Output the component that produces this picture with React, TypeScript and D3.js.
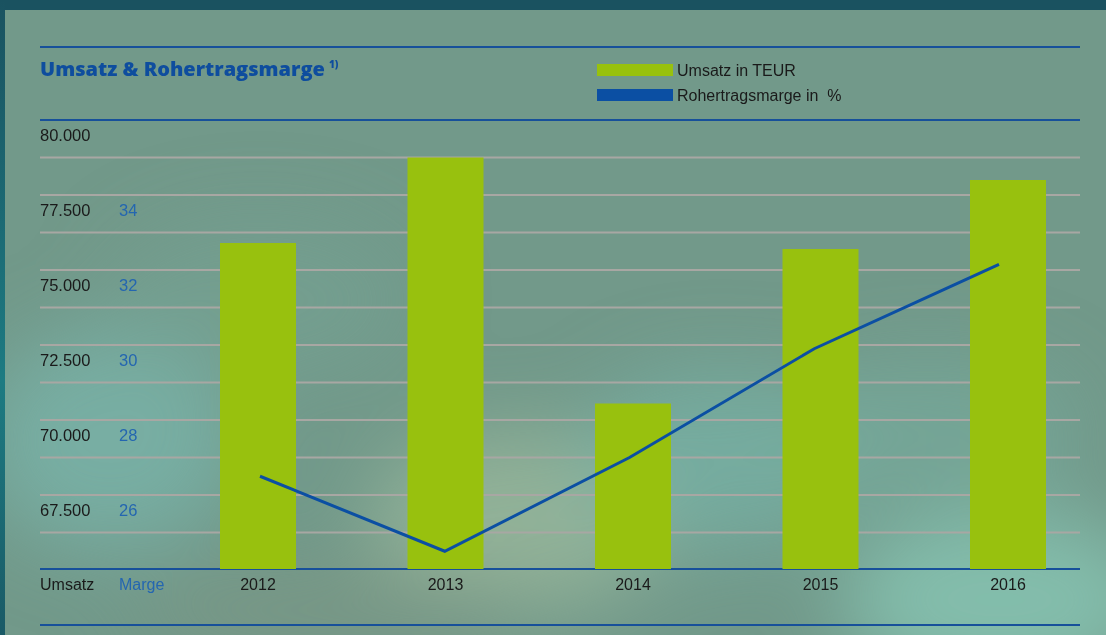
import React from "react";
import * as d3 from "d3";

const years = ["2012", "2013", "2014", "2015", "2016"];
const umsatz = [75900, 78750, 70550, 75700, 78000];
const marge = [26.5, 24.5, 27.0, 29.9, 32.15];
const umsatzTicks = [67500, 70000, 72500, 75000, 77500, 80000];
const margeTicks = [26, 28, 30, 32, 34];
const gridValues = [66250, 67500, 68750, 70000, 71250, 72500, 73750, 75000, 76250, 77500, 78750];

const W = 1106;
const H = 635;
const L = 40;
const R = 1080;

export default function App() {
  const yU = d3.scaleLinear().domain([65000, 80000]).range([570, 120]);
  const yM = d3.scaleLinear().domain([24, 34]).range([570, 195]);
  const xBar = d3.scalePoint<string>().domain(years).range([258, 1008]);
  const xLine = d3.scalePoint<string>().domain(years).range([260, 999]);
  const barW = 76;
  const fmtU = (v: number) => {
    const s = String(v);
    return s.slice(0, s.length - 3) + "." + s.slice(s.length - 3);
  };
  const line = d3
    .line<number>()
    .x((_, i) => xLine(years[i]) as number)
    .y((d) => yM(d));

  const font = "'Liberation Sans', Arial, sans-serif";

  return (
    <svg
      width={W}
      height={H}
      style={{ position: "absolute", left: 0, top: 0, display: "block" }}
    >
      <defs>
        <linearGradient id="leftband" x1="0" y1="0" x2="0" y2="1">
          <stop offset="0" stopColor="#1a5260" />
          <stop offset="0.6" stopColor="#1d7b82" />
          <stop offset="1" stopColor="#1a5a66" />
        </linearGradient>
        <filter id="blur" x="-50%" y="-50%" width="200%" height="200%">
          <feGaussianBlur stdDeviation="40" />
        </filter>
        <clipPath id="panel">
          <rect x={5} y={10} width={W - 5} height={H - 10} />
        </clipPath>
      </defs>
      <rect x={0} y={0} width={W} height={H} fill="#1a5260" />
      <rect x={0} y={0} width={5} height={H} fill="url(#leftband)" />
      <g clipPath="url(#panel)">
        <rect x={5} y={10} width={W - 5} height={H - 10} fill="#72998a" />
        <g filter="url(#blur)">
          <ellipse cx={110} cy={440} rx={130} ry={110} fill="#79b3a9" opacity={0.8} />
          <ellipse cx={520} cy={520} rx={150} ry={90} fill="#98b89b" opacity={0.8} />
          <ellipse cx={720} cy={460} rx={140} ry={90} fill="#78b3a8" opacity={0.7} />
          <ellipse cx={1000} cy={600} rx={160} ry={90} fill="#86c3b1" opacity={0.85} />
          <ellipse cx={930} cy={430} rx={150} ry={70} fill="#77ad9f" opacity={0.6} />
          <ellipse cx={330} cy={610} rx={200} ry={40} fill="#7a9684" opacity={0.8} />
          <ellipse cx={260} cy={300} rx={150} ry={80} fill="#76a394" opacity={0.5} />
        </g>
      </g>

      {/* gridlines */}
      {gridValues.map((v) => (
        <line
          key={v}
          x1={L}
          x2={R}
          y1={yU(v)}
          y2={yU(v)}
          stroke="#a8a7a3"
          strokeWidth={2}
        />
      ))}

      {/* blue rules */}
      {[47, yU(80000), yU(65000) - 1, 625].map((y, i) => (
        <line key={i} x1={L} x2={R} y1={y} y2={y} stroke="#17509a" strokeWidth={2} />
      ))}

      {/* bars */}
      {umsatz.map((v, i) => (
        <rect
          key={years[i]}
          x={(xBar(years[i]) as number) - barW / 2}
          y={yU(v)}
          width={barW}
          height={yU(65000) - 1 - yU(v)}
          fill="#98c10e"
        />
      ))}

      {/* margin line */}
      <path d={line(marge) || ""} fill="none" stroke="#0b4fa3" strokeWidth={3} />

      {/* title */}
      <text x={40} y={76} fontFamily="'Open Sans', sans-serif" fontWeight={800} fontSize={20} fill="#0e4d9e">
        Umsatz &amp; Rohertragsmarge
        <tspan fontSize={10} dy={-8} dx={4}>1)</tspan>
      </text>

      {/* legend */}
      <rect x={597} y={64} width={76} height={12} fill="#98c10e" />
      <text x={677} y={76} fontFamily={font} fontSize={16} fill="#1a1a1a">Umsatz in TEUR</text>
      <rect x={597} y={89} width={76} height={12} fill="#0b4fa3" />
      <text x={677} y={101} fontFamily={font} fontSize={16} fill="#1a1a1a" style={{ whiteSpace: "pre" }}>
        {"Rohertragsmarge in  %"}
      </text>

      {/* left axis labels */}
      {umsatzTicks.map((v) => (
        <text key={v} x={40} y={yU(v) + 21} fontFamily={font} fontSize={16.5} fill="#1a1a1a">
          {fmtU(v)}
        </text>
      ))}
      {margeTicks.map((v) => (
        <text key={v} x={119} y={yM(v) + 21} fontFamily={font} fontSize={16.5} fill="#2466b0">
          {v}
        </text>
      ))}

      {/* bottom labels */}
      <text x={40} y={590} fontFamily={font} fontSize={16} fill="#1a1a1a">Umsatz</text>
      <text x={119} y={590} fontFamily={font} fontSize={16} fill="#2466b0">Marge</text>
      {years.map((y) => (
        <text
          key={y}
          x={xBar(y) as number}
          y={590}
          textAnchor="middle"
          fontFamily={font}
          fontSize={16}
          fill="#1a1a1a"
        >
          {y}
        </text>
      ))}
    </svg>
  );
}
